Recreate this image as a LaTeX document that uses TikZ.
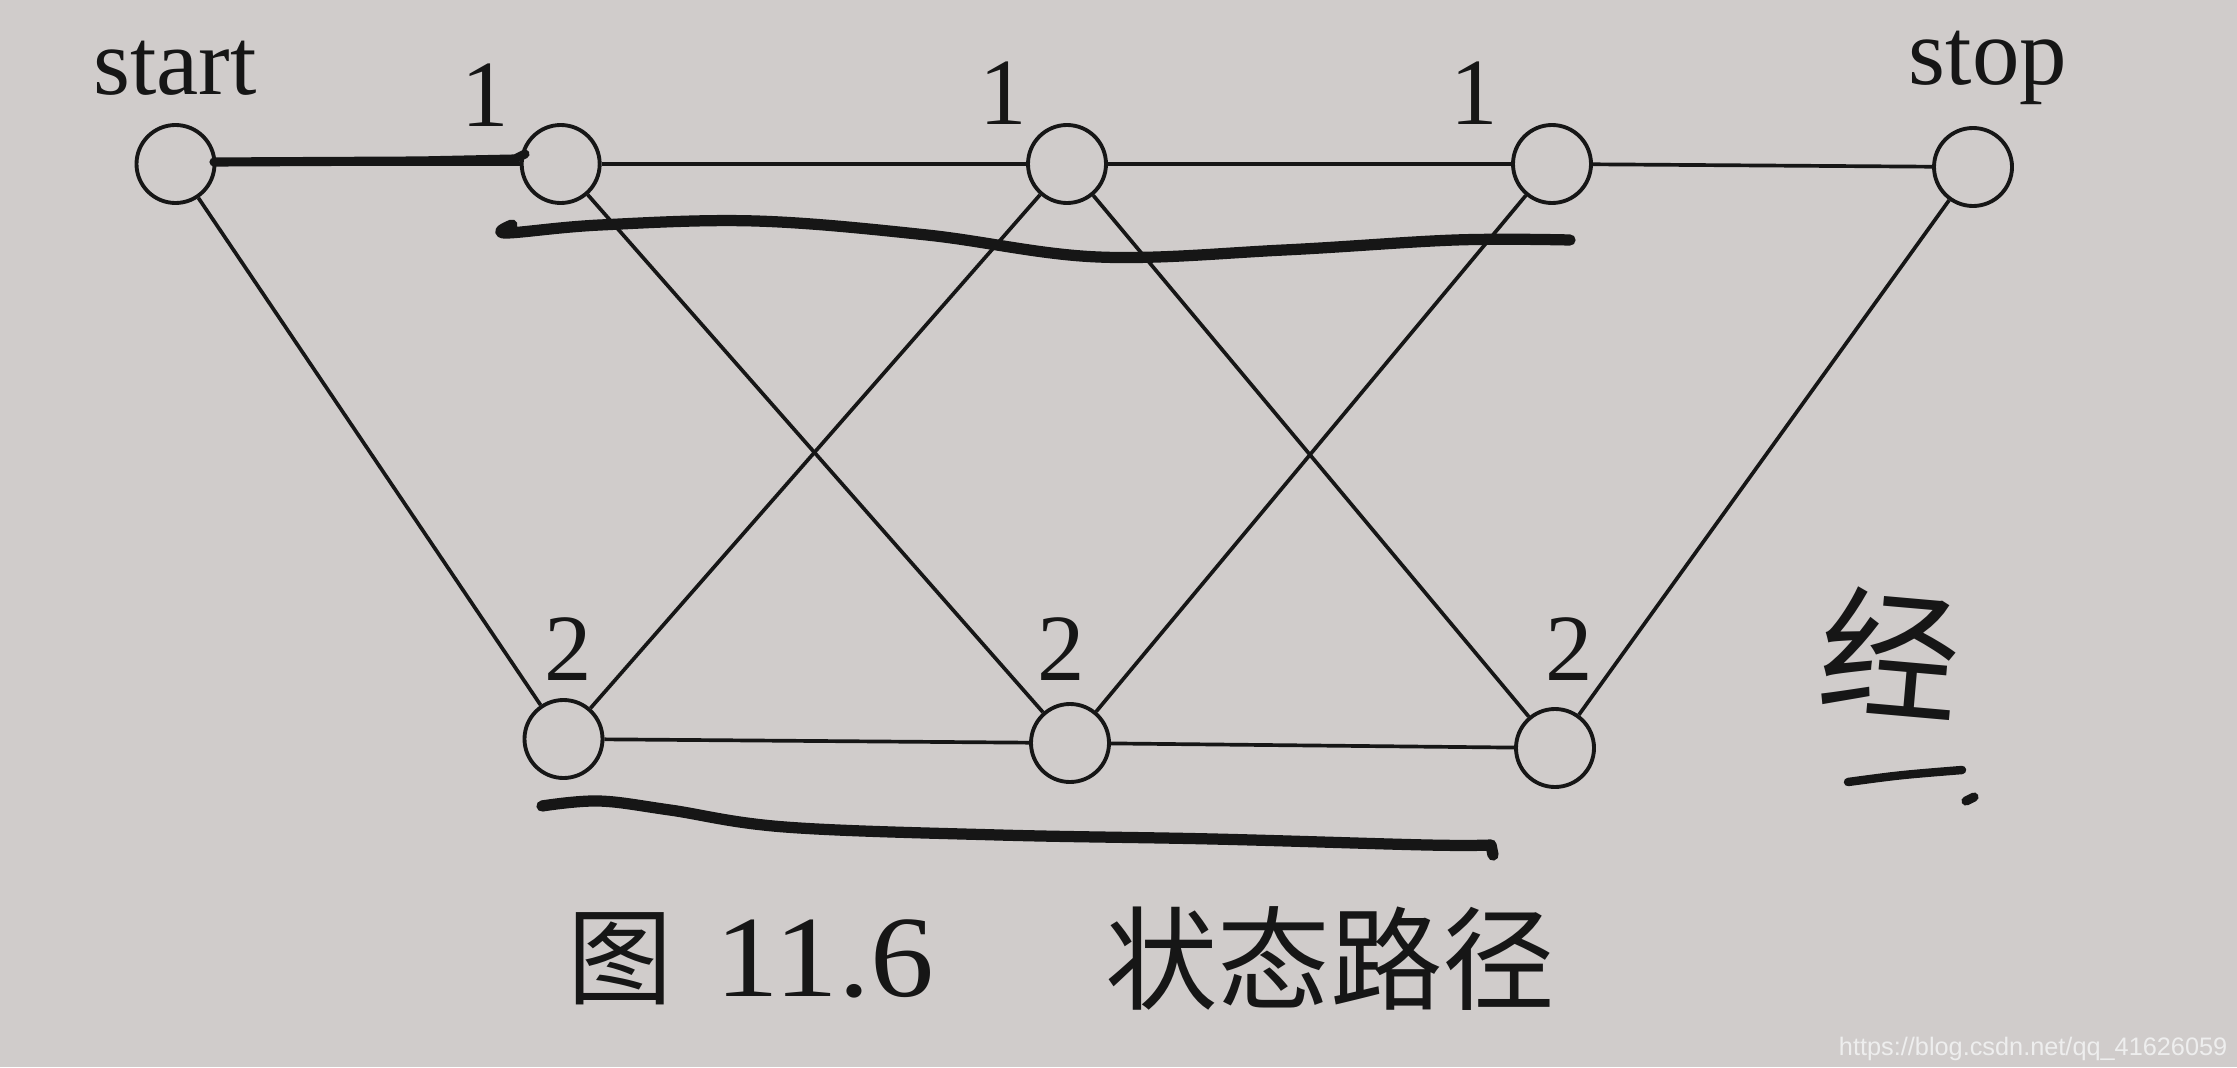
\documentclass[tikz,border=0pt]{standalone}
\usepackage{fontspec}
\setmainfont{Liberation Serif}
\newfontfamily\cjk{Noto Sans CJK SC}
\newfontfamily\wmfont{Liberation Sans}
\definecolor{paper}{RGB}{208,204,203}
\definecolor{ink}{RGB}{22,22,22}
\definecolor{wmark}{RGB}{238,238,238}
\tikzset{
  state/.style={circle, draw=ink, line width=1.1pt, minimum size=0.78cm, inner sep=0pt},
  edge/.style={draw=ink, line width=1.05pt},
  lbl/.style={text=ink, font=\fontsize{27}{30}\selectfont, inner sep=0pt},
  pen/.style={draw=ink, line width=3.2pt, line cap=round, line join=round},
}
\begin{document}
\begin{tikzpicture}
\fill[paper] (0,0) rectangle (22.37,10.67);
\useasboundingbox (0,0) rectangle (22.37,10.67);
% nodes
\node[state] (start) at (1.755,9.03) {};
\node[state] (t1) at (5.607,9.03) {};
\node[state] (t2) at (10.67,9.03) {};
\node[state] (t3) at (15.52,9.03) {};
\node[state] (stop) at (19.73,9.00) {};
\node[state] (b1) at (5.635,3.28) {};
\node[state] (b2) at (10.70,3.24) {};
\node[state] (b3) at (15.55,3.19) {};
% labels
\node[lbl] (lstart) at (1.75,9.99) {start};
\node[lbl] (lstop) at (19.88,9.99) {stop};
\node[lbl] (l1a) at (4.85,9.72) {1};
\node[lbl] (l1b) at (10.03,9.74) {1};
\node[lbl] (l1c) at (14.74,9.74) {1};
\node[lbl] (l2a) at (5.68,4.18) {2};
\node[lbl] (l2b) at (10.61,4.18) {2};
\node[lbl] (l2c) at (15.69,4.18) {2};
% edges
\draw[edge] (start) -- (t1);
\draw[edge] (t1) -- (t2);
\draw[edge] (t2) -- (t3);
\draw[edge] (t3) -- (stop);
\draw[edge] (b1) -- (b2);
\draw[edge] (b2) -- (b3);
\draw[edge] (start) -- (b1);
\draw[edge] (t1) -- (b2);
\draw[edge] (b1) -- (t2);
\draw[edge] (t2) -- (b3);
\draw[edge] (b2) -- (t3);
\draw[edge] (b3) -- (stop);
% caption
\node[text=ink, inner sep=0pt, font=\cjk\fontsize{30}{32}\selectfont] (cap1) at (6.20,1.08) {图};
\node[text=ink, inner sep=0pt, font=\fontsize{33}{36}\selectfont, xscale=1.1] (cap2) at (8.25,1.08) {11.6};
\node[text=ink, inner sep=0pt, font=\cjk\fontsize{32}{34}\selectfont] (cap3) at (13.30,1.08) {状态路径};
% handwritten marks
\draw[pen, line width=2.6pt] (2.14,9.05) -- (4.2,9.06) -- (5.15,9.08) -- (5.25,9.13);
\draw[pen] plot[smooth, tension=0.6] coordinates {(5.12,8.42) (5.06,8.34) (6.00,8.42) (7.56,8.46) (9.27,8.32) (10.98,8.10) (12.84,8.17) (14.55,8.27) (15.70,8.27)};
\draw[pen] plot[smooth, tension=0.6] coordinates {(5.42,2.61) (5.99,2.66) (6.70,2.57) (7.85,2.40) (9.99,2.32) (12.13,2.28) (14.27,2.22) (14.91,2.22)} -- (14.93,2.12);
\node[text=ink, inner sep=0pt, font=\cjk\fontsize{40}{42}\selectfont, rotate=-5] (hw) at (18.90,4.15) {经};
\draw[pen, line width=2.4pt] (18.48,2.85) .. controls (19.0,2.92) .. (19.62,2.97);
\draw[pen, line width=2.6pt] (19.66,2.66) -- (19.74,2.70);
% watermark
\node[anchor=east, text=wmark, inner sep=0pt, font=\wmfont\fontsize{7.2}{8}\selectfont] (wm) at (22.28,0.18) {https://blog.csdn.net/qq\_41626059};
\end{tikzpicture}
\end{document}
